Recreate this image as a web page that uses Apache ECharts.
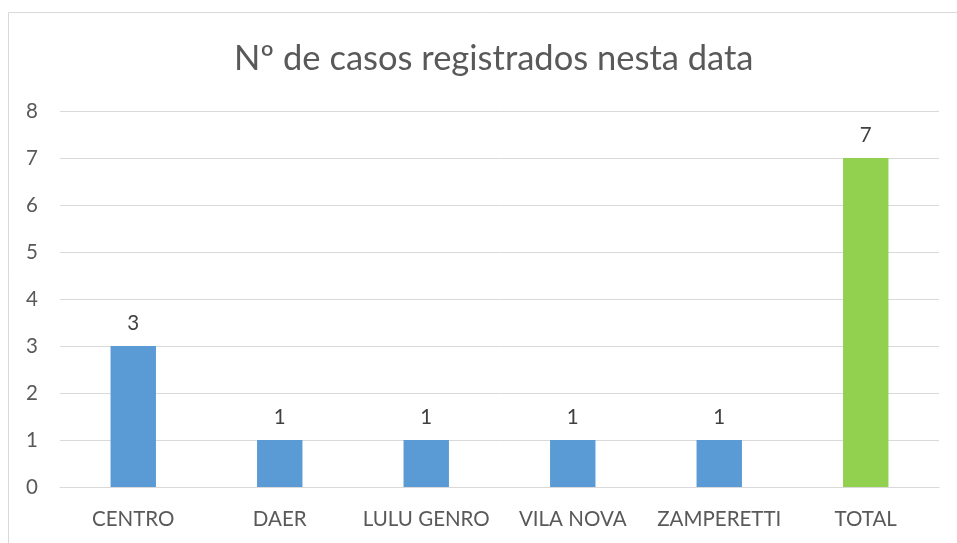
<!DOCTYPE html>
<html>
<head>
<meta charset="utf-8">
<script src="https://cdn.jsdelivr.net/npm/echarts@6/dist/echarts.min.js"></script>
<style>
    html, body { margin: 0; padding: 0; background: #fff; }
    #chart { width: 957px; height: 543px; }
</style>
</head>
<body>
<div id="chart"></div>
<script>
    var categories = ['CENTRO', 'DAER', 'LULU GENRO', 'VILA NOVA', 'ZAMPERETTI', 'TOTAL'];
    var casos = [3, 1, 1, 1, 1, 7];
    var barColors = ['#5b9bd5', '#5b9bd5', '#5b9bd5', '#5b9bd5', '#5b9bd5', '#92d050'];

    var chart = echarts.init(document.getElementById('chart'));

    var seriesData = casos.map(function (v, i) {
        return { value: v, itemStyle: { color: barColors[i] } };
    });

    var option = {
        animation: false,
        textStyle: { fontFamily: 'Lato' },
        graphic: [{
            type: 'rect',
            shape: { x: 8.5, y: 12.5, width: 1200, height: 1200 },
            style: { fill: 'none', stroke: '#d9d9d9', lineWidth: 1 },
            silent: true
        }],
        title: {
            text: 'Nº de casos registrados nesta data',
            left: 229,
            top: 36,
            textStyle: { fontFamily: 'Lato', fontSize: 34.5, fontWeight: 'normal', color: '#595959' }
        },
        grid: { left: 60, right: 18, top: 111, bottom: 56 },
        xAxis: {
            type: 'category',
            data: categories,
            axisLine: { show: true, lineStyle: { color: '#d9d9d9', width: 1 } },
            axisTick: { show: false },
            axisLabel: { color: '#595959', fontSize: 20.5, margin: 22, interval: 0 }
        },
        yAxis: {
            type: 'value',
            min: 0,
            max: 8,
            interval: 1,
            axisLine: { show: false },
            axisTick: { show: false },
            splitLine: { lineStyle: { color: '#d9d9d9', width: 1 } },
            axisLabel: { color: '#595959', fontSize: 20.5, margin: 22 }
        },
        series: [{
            type: 'bar',
            data: seriesData,
            barWidth: '31%',
            label: { show: true, position: 'top', distance: 12, color: '#404040', fontSize: 20.5 }
        }]
    };

    chart.setOption(option);
</script>
</body>
</html>
